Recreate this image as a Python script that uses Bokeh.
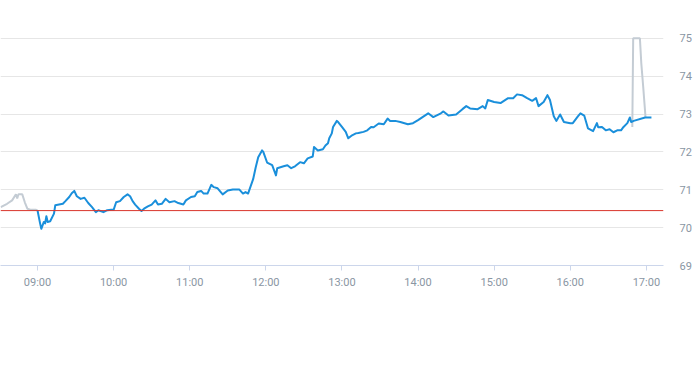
from datetime import datetime
from bokeh.plotting import figure
from bokeh.models import FixedTicker, Span, DatetimeTickFormatter, Range1d
from bokeh.embed import file_html
from bokeh.resources import INLINE

# ---- data ----
session_times = [
    "09:00", "09:02", "09:03", "09:05", "09:06", "09:07", "09:08", "09:10", "09:13", "09:14",
    "09:17", "09:20", "09:22", "09:25", "09:27", "09:29", "09:31", "09:34", "09:37", "09:40",
    "09:43", "09:46", "09:48", "09:52", "09:55", "09:58", "10:00", "10:02", "10:05", "10:08",
    "10:11", "10:13", "10:15", "10:17", "10:20", "10:22", "10:24", "10:27", "10:30", "10:33",
    "10:35", "10:38", "10:41", "10:44", "10:48", "10:51", "10:55", "10:57", "11:01", "11:04",
    "11:06", "11:09", "11:11", "11:14", "11:17", "11:19", "11:22", "11:26", "11:30", "11:34",
    "11:39", "11:42", "11:44", "11:46", "11:50", "11:52", "11:54", "11:57", "11:58", "12:01",
    "12:05", "12:08", "12:09", "12:14", "12:17", "12:20", "12:23", "12:27", "12:30", "12:33",
    "12:37", "12:38", "12:41", "12:45", "12:47", "12:49", "12:50", "12:52", "12:53", "12:56",
    "12:57", "13:00", "13:03", "13:05", "13:08", "13:11", "13:13", "13:17", "13:20", "13:23",
    "13:25", "13:29", "13:33", "13:36", "13:38", "13:42", "13:46", "13:52", "13:56", "14:00",
    "14:08", "14:12", "14:18", "14:20", "14:24", "14:30", "14:35", "14:38", "14:41", "14:47",
    "14:51", "14:53", "14:55", "15:00", "15:05", "15:11", "15:15", "15:18", "15:22", "15:26",
    "15:30", "15:33", "15:35", "15:39", "15:42", "15:44", "15:47", "15:49", "15:52", "15:55",
    "16:00", "16:02", "16:06", "16:08", "16:11", "16:14", "16:18", "16:21", "16:22", "16:25",
    "16:28", "16:31", "16:34", "16:37", "16:40", "16:42", "16:45", "16:47", "16:48", "16:50",
    "16:59", "17:04",
]
session_prices = [
    70.46, 70.12, 69.97, 70.15, 70.11, 70.30, 70.15, 70.17, 70.37, 70.59,
    70.61, 70.63, 70.70, 70.81, 70.91, 70.97, 70.83, 70.76, 70.79, 70.65,
    70.54, 70.41, 70.46, 70.41, 70.46, 70.47, 70.47, 70.67, 70.70, 70.81,
    70.88, 70.83, 70.70, 70.61, 70.50, 70.44, 70.50, 70.56, 70.61, 70.72,
    70.61, 70.63, 70.76, 70.67, 70.70, 70.65, 70.61, 70.72, 70.81, 70.83,
    70.94, 70.97, 70.90, 70.90, 71.13, 71.07, 71.04, 70.88, 70.98, 71.01,
    71.01, 70.90, 70.94, 70.90, 71.28, 71.59, 71.86, 72.04, 72.00, 71.72,
    71.65, 71.38, 71.57, 71.62, 71.65, 71.57, 71.62, 71.73, 71.70, 71.83,
    71.88, 72.13, 72.04, 72.07, 72.17, 72.23, 72.36, 72.49, 72.66, 72.82,
    72.79, 72.66, 72.53, 72.36, 72.44, 72.49, 72.50, 72.53, 72.57, 72.66,
    72.65, 72.75, 72.73, 72.88, 72.82, 72.82, 72.79, 72.73, 72.76, 72.84,
    73.02, 72.92, 73.02, 73.07, 72.96, 72.99, 73.13, 73.21, 73.15, 73.13,
    73.21, 73.15, 73.37, 73.32, 73.29, 73.42, 73.42, 73.52, 73.50, 73.42,
    73.35, 73.42, 73.21, 73.32, 73.50, 73.37, 72.94, 72.82, 72.99, 72.79,
    72.76, 72.76, 72.94, 73.02, 72.96, 72.62, 72.55, 72.76, 72.65, 72.66,
    72.57, 72.60, 72.52, 72.57, 72.57, 72.66, 72.76, 72.91, 72.79, 72.82,
    72.91, 72.91,
]

pre_times = ["08:31", "08:36", "08:40", "08:43", "08:44", "08:45", "08:48", "08:50",
             "08:52", "08:55", "08:59", "09:00"]
pre_prices = [70.54, 70.63, 70.72, 70.88, 70.77, 70.88, 70.88, 70.67,
              70.50, 70.47, 70.47, 70.46]

post_times = ["16:48:55", "16:49:36", "16:54:54", "16:56:00", "16:57:30", "16:58:48", "16:59:18"]
post_prices = [72.66, 75.00, 75.00, 74.34, 73.72, 73.15, 72.92]

prev_close = 70.45

tick_labels = ["09:00", "10:00", "11:00", "12:00", "13:00", "14:00", "15:00", "16:00", "17:00"]
y_ticks = [69, 70, 71, 72, 73, 74, 75]
x_start, x_end = "08:30:50", "17:13:30"
y_start, y_end = 69, 76.0


def to_dt(s):
    fmt = "%H:%M:%S" if s.count(":") == 2 else "%H:%M"
    t = datetime.strptime(s, fmt)
    return datetime(2024, 1, 2, t.hour, t.minute, t.second)


def to_ms(s):
    return (to_dt(s) - datetime(1970, 1, 1)).total_seconds() * 1000.0


LABEL = "#8a96a3"
FONT = "Roboto"

p = figure(
    x_axis_type="datetime",
    y_axis_location="right",
    frame_width=663,
    frame_height=265,
    output_backend="svg",
    toolbar_location=None,
    x_range=Range1d(to_dt(x_start), to_dt(x_end)),
    y_range=Range1d(y_start, y_end),
    min_border_left=0,
    min_border_top=0,
    min_border_bottom=0,
    min_border_right=0,
)
p.outline_line_color = None
p.background_fill_color = "white"
p.border_fill_color = "white"

p.xgrid.grid_line_color = None
p.ygrid.grid_line_color = "#e6e6e6"
p.ygrid.grid_line_width = 1

# y axis (right)
p.yaxis.ticker = FixedTicker(ticks=y_ticks)
p.yaxis.axis_line_color = None
p.yaxis.major_tick_line_color = None
p.yaxis.minor_tick_line_color = None
p.yaxis.major_tick_out = 0
p.yaxis.major_tick_in = 0
p.yaxis.major_label_standoff = 16
p.yaxis.major_label_text_color = LABEL
p.yaxis.major_label_text_font = FONT
p.yaxis.major_label_text_font_size = "11px"

# x axis
p.xaxis.ticker = FixedTicker(ticks=[to_ms(t) for t in tick_labels])
p.xaxis.formatter = DatetimeTickFormatter(hours="%H:%M", minutes="%H:%M", hourmin="%H:%M")
p.xaxis.axis_line_color = "#ccd6eb"
p.xaxis.major_tick_line_color = "#ccd6eb"
p.xaxis.minor_tick_line_color = None
p.xaxis.major_tick_out = 5
p.xaxis.major_tick_in = 0
p.xaxis.major_label_standoff = 5
p.xaxis.major_label_text_color = LABEL
p.xaxis.major_label_text_font = FONT
p.xaxis.major_label_text_font_size = "11px"

p.add_layout(Span(location=prev_close, dimension="width", line_color="#d9342b", line_width=1))

p.line([to_dt(t) for t in pre_times], pre_prices, line_color="#c4ccd4", line_width=2)
p.line([to_dt(t) for t in post_times], post_prices, line_color="#c4ccd4", line_width=2)
p.line([to_dt(t) for t in session_times], session_prices, line_color="#1a8fdb", line_width=2,
       line_join="round")

open("out.html", "w").write(file_html(p, INLINE))
